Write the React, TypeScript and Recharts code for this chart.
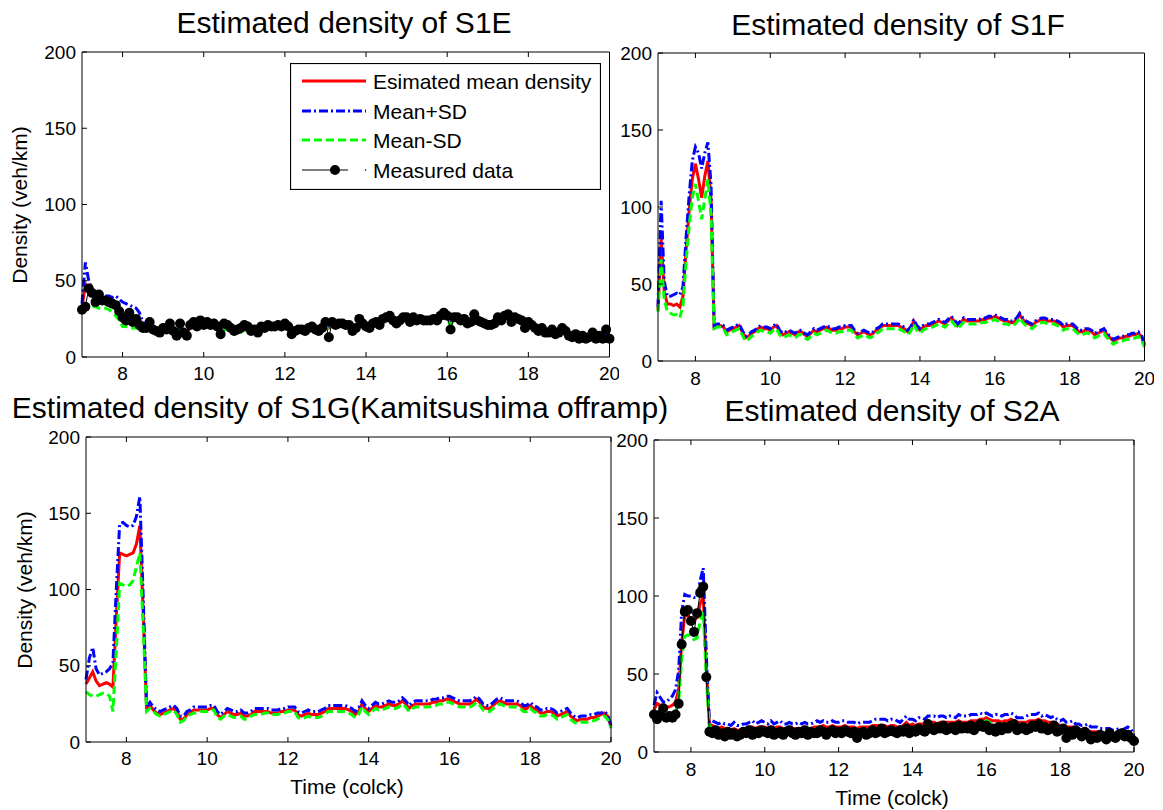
import { LineChart, Line, XAxis, YAxis } from "recharts";

const font = '"Liberation Sans", Arial, Helvetica, sans-serif';

// 5-minute samples, 7:00 to 20:00
const hours = Array.from({ length: 157 }, (_, i) => 7 + i / 12);
const xTicks = [8, 10, 12, 14, 16, 18, 20];
const yTicks = [0, 50, 100, 150, 200];

// S1E
const s1eMean = [
  32, 48, 44, 41, 40, 39, 37, 36, 35, 34, 33, 31,
  28, 27, 26, 25, 24, 22, 20, 19, 20, 19, 18, 17,
  18, 19, 20, 18, 16, 19, 17, 16, 19, 21, 21, 22,
  21, 22, 21, 21, 20, 18, 20, 20, 19, 18, 18, 18,
  20, 19, 18, 18, 17, 19, 19, 20, 20, 20, 20, 20,
  21, 20, 18, 17, 18, 18, 18, 19, 19, 18, 18, 19,
  21, 19, 21, 21, 21, 21, 21, 21, 19, 19, 23, 22,
  21, 20, 21, 22, 22, 24, 25, 26, 24, 23, 24, 25,
  25, 24, 25, 25, 25, 24, 24, 24, 24, 24, 26, 27,
  26, 22, 25, 25, 24, 24, 23, 23, 26, 24, 23, 22,
  22, 22, 22, 24, 24, 26, 27, 25, 25, 25, 24, 22,
  22, 21, 19, 18, 18, 17, 17, 17, 16, 16, 17, 16,
  15, 14, 14, 13, 14, 13, 13, 14, 13, 14, 14, 15,
  12,
];
const s1ePlus = [
  35, 62, 50, 44, 42, 42, 40, 40, 40, 39, 40, 38,
  36, 35, 34, 33, 32, 29, 23, 21, 21, 20, 19, 18,
  19, 20, 21, 19, 17, 20, 18, 17, 20, 22, 22, 23,
  22, 23, 22, 22, 21, 19, 21, 21, 20, 19, 19, 19,
  21, 20, 19, 19, 18, 20, 20, 21, 21, 21, 21, 21,
  22, 21, 19, 18, 19, 19, 19, 20, 20, 19, 19, 20,
  22, 20, 22, 22, 22, 22, 22, 22, 20, 20, 24, 23,
  22, 21, 22, 23, 23, 25, 26, 27, 25, 24, 25, 26,
  26, 25, 27, 26, 26, 25, 25, 25, 25, 25, 27, 28,
  27, 23, 26, 26, 25, 25, 24, 24, 27, 25, 24, 23,
  23, 23, 23, 25, 25, 27, 28, 26, 26, 26, 25, 23,
  23, 22, 20, 19, 19, 18, 18, 18, 17, 17, 18, 17,
  16, 15, 15, 14, 15, 14, 14, 15, 14, 15, 15, 16,
  13,
];
const s1eMinus = [
  30, 32, 32, 33, 33, 32, 32, 32, 31, 29, 27, 24,
  20, 20, 19, 19, 19, 18, 17, 17, 18, 17, 16, 16,
  17, 18, 19, 17, 15, 18, 16, 15, 18, 20, 20, 21,
  20, 21, 20, 19, 18, 16, 18, 18, 17, 16, 16, 16,
  18, 17, 16, 17, 16, 18, 18, 19, 19, 19, 19, 19,
  20, 19, 17, 16, 17, 17, 17, 18, 18, 17, 17, 18,
  20, 18, 20, 20, 20, 20, 20, 20, 18, 18, 22, 21,
  20, 19, 20, 21, 21, 23, 24, 25, 23, 22, 23, 24,
  24, 23, 24, 24, 24, 23, 23, 23, 23, 23, 25, 26,
  25, 21, 24, 24, 23, 23, 22, 22, 25, 23, 22, 21,
  21, 21, 21, 23, 23, 25, 26, 24, 24, 24, 23, 21,
  21, 20, 18, 17, 17, 16, 16, 16, 15, 15, 16, 15,
  14, 13, 13, 12, 13, 12, 12, 13, 12, 13, 13, 14,
  11,
];
const s1eMeasured = [
  31, 33, 45, 42, 36, 41, 37, 37, 36, 35, 34, 30,
  26, 24, 29, 23, 25, 21, 19, 19, 23, 18, 17, 16,
  19, 18, 22, 17, 14, 22, 16, 14, 21, 23, 20, 24,
  21, 23, 21, 22, 20, 15, 22, 21, 19, 17, 18, 19,
  21, 20, 17, 18, 16, 20, 19, 21, 20, 20, 21, 20,
  22, 20, 15, 17, 18, 18, 17, 19, 20, 18, 17, 19,
  23, 13, 23, 21, 22, 22, 21, 21, 17, 19, 25, 22,
  20, 19, 22, 23, 21, 25, 26, 27, 24, 22, 24, 26,
  26, 23, 26, 24, 25, 24, 24, 24, 25, 24, 27, 29,
  27, 18, 26, 26, 24, 25, 22, 23, 28, 24, 23, 22,
  21, 21, 22, 26, 24, 27, 28, 23, 26, 25, 24, 19,
  23, 21, 19, 17, 19, 16, 16, 18, 15, 16, 19, 17,
  14, 13, 15, 12, 14, 12, 13, 16, 12, 14, 12, 18,
  12,
];

// S1F
const s1fMean = [
  33, 80, 45, 37, 37, 36, 37, 35, 42, 72, 98, 118,
  128, 118, 106, 120, 130, 105, 22, 23, 23, 22, 19, 20,
  21, 22, 23, 19, 15, 16, 18, 19, 21, 22, 21, 21,
  20, 22, 23, 19, 17, 18, 19, 18, 17, 19, 19, 17,
  16, 18, 20, 19, 20, 21, 22, 21, 20, 20, 21, 21,
  22, 22, 22, 19, 17, 18, 19, 18, 17, 18, 20, 21,
  23, 23, 23, 23, 23, 23, 22, 21, 19, 21, 26, 22,
  20, 22, 23, 23, 24, 25, 26, 25, 24, 26, 28, 26,
  23, 25, 27, 26, 26, 26, 26, 26, 27, 27, 28, 28,
  29, 28, 27, 26, 26, 25, 25, 27, 30, 27, 25, 24,
  23, 25, 26, 27, 27, 26, 26, 26, 25, 24, 22, 23,
  23, 23, 21, 19, 19, 20, 20, 19, 17, 18, 19, 20,
  17, 15, 13, 14, 15, 15, 16, 16, 17, 17, 18, 16,
  10,
];
const s1fPlus = [
  35, 104, 52, 42, 42, 43, 44, 43, 48, 80, 108, 130,
  139, 135, 125, 135, 142, 115, 23, 24, 24, 23, 20, 21,
  22, 23, 24, 20, 16, 17, 19, 20, 22, 23, 22, 22,
  21, 23, 24, 20, 18, 19, 20, 19, 18, 20, 20, 18,
  17, 19, 21, 20, 21, 22, 23, 22, 21, 21, 22, 22,
  23, 23, 23, 20, 18, 19, 20, 19, 18, 19, 21, 22,
  24, 24, 24, 24, 24, 24, 23, 22, 20, 22, 27, 23,
  21, 23, 24, 24, 25, 26, 27, 26, 25, 27, 29, 27,
  24, 26, 28, 27, 27, 27, 27, 27, 28, 28, 29, 29,
  30, 29, 28, 27, 27, 26, 26, 28, 31, 28, 26, 25,
  24, 26, 27, 28, 28, 27, 27, 27, 26, 25, 23, 24,
  24, 24, 22, 20, 20, 21, 21, 20, 18, 19, 20, 21,
  18, 16, 14, 15, 16, 16, 17, 17, 18, 18, 19, 17,
  11,
];
const s1fMinus = [
  32, 66, 40, 32, 31, 30, 30, 28, 36, 64, 88, 106,
  115, 104, 92, 105, 118, 95, 21, 22, 22, 21, 17, 18,
  19, 20, 21, 17, 13, 14, 16, 17, 19, 20, 19, 19,
  18, 20, 21, 17, 15, 16, 17, 16, 15, 17, 17, 15,
  14, 16, 18, 17, 18, 19, 20, 19, 18, 18, 19, 19,
  20, 20, 20, 17, 15, 16, 17, 16, 15, 16, 18, 19,
  21, 21, 21, 21, 21, 21, 20, 19, 17, 19, 24, 20,
  18, 20, 21, 21, 22, 23, 24, 23, 22, 24, 26, 24,
  21, 23, 25, 24, 24, 24, 24, 24, 25, 25, 26, 26,
  27, 26, 25, 24, 24, 23, 23, 25, 28, 25, 23, 22,
  21, 23, 24, 25, 25, 24, 24, 24, 23, 22, 20, 21,
  21, 21, 19, 17, 17, 18, 18, 17, 15, 16, 17, 18,
  15, 13, 11, 12, 13, 13, 14, 14, 15, 15, 16, 14,
  9,
];

// S1G (Kamitsushima offramp)
const s1gMean = [
  38, 42, 46, 40, 37, 38, 39, 38, 36, 82, 124, 123,
  122, 123, 124, 130, 142, 85, 22, 24, 21, 19, 18, 19,
  20, 21, 22, 20, 15, 15, 18, 19, 21, 21, 21, 21,
  21, 22, 22, 18, 16, 18, 20, 19, 18, 18, 19, 17,
  17, 18, 20, 20, 20, 20, 20, 19, 19, 19, 20, 20,
  21, 21, 21, 18, 17, 18, 19, 18, 18, 18, 19, 20,
  22, 22, 22, 22, 22, 22, 21, 20, 18, 20, 25, 22,
  20, 22, 24, 23, 23, 24, 25, 24, 24, 25, 27, 25,
  22, 24, 25, 25, 25, 25, 25, 26, 26, 27, 27, 28,
  28, 27, 26, 25, 25, 25, 25, 26, 28, 26, 23, 22,
  22, 24, 26, 27, 26, 25, 25, 25, 25, 24, 22, 22,
  24, 22, 21, 19, 19, 20, 20, 19, 17, 18, 19, 20,
  17, 15, 14, 15, 15, 15, 16, 16, 17, 18, 19, 17,
  10,
];
const s1gPlus = [
  41, 55, 62, 48, 44, 45, 46, 48, 52, 100, 143, 144,
  142, 141, 142, 148, 161, 95, 23, 26, 23, 21, 20, 21,
  22, 23, 24, 22, 17, 17, 20, 21, 23, 23, 23, 23,
  23, 24, 24, 20, 18, 20, 22, 21, 20, 20, 21, 19,
  19, 20, 22, 22, 22, 22, 22, 21, 21, 21, 22, 22,
  23, 23, 23, 20, 19, 20, 21, 20, 20, 20, 21, 22,
  24, 24, 24, 24, 24, 24, 23, 22, 20, 22, 27, 24,
  22, 24, 26, 25, 25, 26, 27, 26, 26, 27, 29, 27,
  24, 26, 27, 27, 27, 27, 27, 28, 28, 29, 29, 30,
  30, 29, 28, 27, 27, 27, 27, 28, 30, 28, 25, 24,
  24, 26, 28, 29, 28, 27, 27, 27, 27, 26, 24, 24,
  26, 24, 23, 21, 21, 22, 22, 21, 19, 20, 21, 22,
  19, 17, 16, 17, 17, 17, 18, 18, 19, 19, 20, 18,
  11,
];
const s1gMinus = [
  33, 31, 30, 30, 31, 32, 32, 30, 20, 60, 104, 103,
  102, 103, 106, 115, 124, 75, 20, 22, 20, 18, 17, 18,
  19, 20, 21, 18, 13, 14, 17, 18, 19, 19, 20, 20,
  20, 21, 21, 16, 15, 17, 18, 17, 16, 16, 17, 15,
  15, 17, 18, 18, 18, 19, 19, 18, 18, 18, 19, 19,
  20, 20, 20, 16, 15, 16, 17, 16, 16, 16, 17, 18,
  20, 20, 20, 20, 20, 20, 19, 18, 16, 18, 23, 20,
  18, 20, 22, 21, 21, 22, 23, 22, 22, 23, 25, 23,
  20, 22, 23, 23, 23, 23, 23, 24, 24, 25, 25, 26,
  26, 25, 24, 23, 23, 23, 23, 24, 26, 24, 21, 20,
  20, 22, 24, 25, 24, 23, 23, 23, 23, 22, 20, 20,
  22, 20, 19, 17, 17, 18, 18, 17, 15, 16, 17, 18,
  15, 13, 12, 13, 13, 13, 14, 14, 15, 16, 17, 15,
  9,
];

// S2A
const s2aMean = [
  27, 31, 30, 29, 29, 29, 30, 32, 40, 70, 88, 87,
  86, 85, 86, 95, 100, 55, 18, 17, 16, 15, 16, 15,
  15, 14, 15, 14, 14, 15, 15, 16, 16, 15, 16, 16,
  16, 15, 16, 15, 16, 16, 15, 15, 16, 15, 15, 15,
  15, 16, 15, 15, 16, 16, 16, 17, 16, 16, 17, 16,
  16, 16, 17, 16, 16, 16, 15, 16, 16, 16, 16, 17,
  17, 17, 17, 17, 16, 17, 17, 16, 16, 17, 19, 17,
  18, 17, 18, 18, 18, 19, 19, 19, 18, 19, 19, 19,
  19, 19, 19, 20, 19, 19, 19, 20, 20, 20, 21, 21,
  22, 21, 20, 20, 20, 19, 20, 20, 21, 20, 19, 19,
  19, 19, 20, 20, 20, 21, 20, 20, 19, 19, 19, 18,
  17, 17, 16, 16, 16, 15, 15, 14, 14, 14, 13, 13,
  13, 12, 12, 12, 12, 12, 12, 12, 12, 12, 12, 12,
  9,
];
const s2aPlus = [
  30, 38, 35, 32, 32, 34, 36, 40, 52, 90, 101, 100,
  100, 99, 99, 110, 118, 62, 19, 20, 19, 18, 19, 18,
  18, 17, 19, 17, 17, 18, 18, 19, 20, 18, 19, 20,
  19, 18, 20, 18, 19, 20, 18, 18, 19, 18, 18, 19,
  18, 19, 18, 18, 19, 20, 19, 20, 19, 19, 20, 19,
  19, 20, 20, 19, 19, 19, 18, 19, 19, 19, 19, 20,
  21, 21, 21, 21, 20, 21, 21, 20, 19, 21, 23, 21,
  21, 20, 22, 22, 21, 23, 23, 23, 22, 23, 23, 22,
  23, 23, 22, 24, 23, 23, 23, 24, 24, 24, 25, 24,
  25, 24, 23, 24, 24, 23, 24, 24, 25, 24, 22, 22,
  22, 23, 24, 24, 24, 25, 23, 24, 23, 22, 23, 21,
  20, 21, 19, 19, 20, 18, 18, 17, 17, 18, 16, 16,
  16, 15, 15, 15, 15, 14, 14, 15, 14, 15, 16, 15,
  11,
];
const s2aMinus = [
  25, 25, 25, 25, 24, 24, 25, 26, 32, 60, 74, 75,
  74, 72, 73, 84, 90, 48, 15, 14, 13, 13, 14, 13,
  13, 12, 13, 12, 12, 13, 13, 14, 14, 13, 14, 14,
  14, 13, 14, 13, 14, 14, 13, 13, 14, 13, 13, 13,
  13, 14, 13, 13, 14, 14, 14, 15, 14, 14, 15, 14,
  14, 14, 15, 14, 14, 14, 13, 14, 14, 14, 14, 15,
  15, 15, 15, 15, 14, 15, 15, 14, 14, 15, 17, 15,
  16, 15, 16, 16, 16, 17, 17, 17, 16, 17, 17, 17,
  17, 17, 17, 18, 17, 17, 17, 18, 18, 18, 19, 19,
  20, 19, 18, 18, 18, 17, 18, 18, 19, 18, 17, 17,
  17, 17, 18, 18, 18, 19, 18, 18, 17, 17, 17, 16,
  15, 15, 14, 14, 14, 13, 13, 12, 12, 12, 11, 11,
  11, 10, 10, 10, 10, 10, 10, 10, 10, 10, 10, 10,
  8,
];
const s2aMeasured = [
  24, 21, 24, 28, 22, 23, 22, 24, 31, 69, 90, 91,
  84, 77, 89, 102, 106, 48, 13, 12, 14, 11, 12, 10,
  13, 11, 12, 10, 11, 13, 12, 14, 11, 13, 12, 14,
  13, 12, 14, 11, 12, 13, 11, 13, 14, 12, 11, 13,
  12, 14, 11, 13, 12, 12, 14, 13, 11, 13, 14, 12,
  13, 12, 14, 13, 12, 13, 9, 12, 13, 11, 12, 14,
  12, 13, 15, 12, 13, 14, 13, 12, 14, 13, 15, 12,
  14, 13, 15, 14, 13, 18, 15, 14, 16, 15, 17, 14,
  15, 16, 14, 17, 15, 16, 15, 17, 14, 16, 18, 16,
  17, 14, 15, 13, 16, 14, 16, 15, 17, 18, 14, 15,
  16, 14, 15, 17, 16, 18, 15, 16, 14, 15, 17, 13,
  14, 15, 9, 13, 11, 14, 12, 10, 13, 11, 8, 10,
  9, 11, 10, 8, 12, 10, 9, 11, 12, 10, 11, 9,
  7,
];

type Row = { t: number; mean: number; plus: number; minus: number; measured?: number };

function buildRows(mean: number[], plus: number[], minus: number[], measured?: number[]): Row[] {
  return hours.map((t, i) => ({
    t,
    mean: mean[i],
    plus: plus[i],
    minus: minus[i],
    measured: measured ? measured[i] : undefined,
  }));
}

const tickText = { fill: "#000", fontSize: 19, fontFamily: font };
const Y_AXIS_W = 60;
const PAD = 10;
const X_AXIS_H = 40;

interface PanelProps {
  rows: Row[];
  left: number;
  top: number;
  width: number;
  height: number;
  xLabelGap: number;
  measured?: boolean;
}

function DensityPanel({ rows, left, top, width, height, xLabelGap, measured }: PanelProps) {
  return (
    <div style={{ position: "absolute", left: left - Y_AXIS_W, top: top - PAD }}>
      <LineChart
        width={width + Y_AXIS_W + PAD}
        height={height + PAD + X_AXIS_H}
        data={rows}
        margin={{ top: PAD - 1, right: PAD - 1, bottom: 0, left: 0 }}
      >
        <XAxis
          dataKey="t"
          type="number"
          domain={[7, 20]}
          ticks={xTicks}
          interval={0}
          height={X_AXIS_H}
          tickSize={-5}
          tickMargin={xLabelGap + 5}
          tick={tickText}
          stroke="#000"
        />
        <XAxis
          xAxisId="top"
          orientation="top"
          dataKey="t"
          type="number"
          domain={[7, 20]}
          ticks={xTicks}
          interval={0}
          height={1}
          tickSize={-5}
          tickFormatter={() => ""}
          stroke="#000"
        />
        <YAxis
          domain={[0, 200]}
          ticks={yTicks}
          interval={0}
          width={Y_AXIS_W}
          tickSize={-5}
          tickMargin={11}
          tick={tickText}
          stroke="#000"
        />
        <YAxis
          yAxisId="right"
          orientation="right"
          domain={[0, 200]}
          ticks={yTicks}
          interval={0}
          width={1}
          tickSize={-5}
          tickFormatter={() => ""}
          stroke="#000"
        />
        <Line dataKey="mean" stroke="#ff0000" strokeWidth={3} dot={false} isAnimationActive={false} />
        <Line
          dataKey="plus"
          stroke="#0000ff"
          strokeWidth={3}
          strokeDasharray="9 3 2 3"
          dot={false}
          isAnimationActive={false}
        />
        <Line
          dataKey="minus"
          stroke="#00ff00"
          strokeWidth={3}
          strokeDasharray="8 4"
          dot={false}
          isAnimationActive={false}
        />
        {measured && (
          <Line
            dataKey="measured"
            stroke="#000"
            strokeWidth={1}
            dot={{ r: 5, fill: "#000", stroke: "#000", strokeWidth: 0 }}
            isAnimationActive={false}
          />
        )}
      </LineChart>
    </div>
  );
}

function Title({ text, cx, cy }: { text: string; cx: number; cy: number }) {
  return (
    <div
      style={{
        position: "absolute",
        left: cx - 400,
        top: cy - 15,
        width: 800,
        textAlign: "center",
        fontSize: 30,
        lineHeight: "30px",
        fontFamily: font,
        whiteSpace: "nowrap",
      }}
    >
      {text}
    </div>
  );
}

function AxisLabel({ text, cx, cy, vertical }: { text: string; cx: number; cy: number; vertical?: boolean }) {
  return (
    <div
      style={{
        position: "absolute",
        left: cx,
        top: cy,
        transform: `translate(-50%, -50%)${vertical ? " rotate(-90deg)" : ""}`,
        fontSize: 21,
        lineHeight: "21px",
        fontFamily: font,
        whiteSpace: "nowrap",
      }}
    >
      {text}
    </div>
  );
}

const legendRows = [
  { label: "Esimated mean density", color: "#ff0000", dash: undefined },
  { label: "Mean+SD", color: "#0000ff", dash: "9 3 2 3" },
  { label: "Mean-SD", color: "#00ff00", dash: "8 4" },
];

function DensityLegend() {
  const rowY = [18, 48, 77, 107];
  return (
    <svg
      width={311}
      height={127}
      style={{ position: "absolute", left: 290, top: 63, background: "#fff" }}
    >
      <rect x={0.5} y={0.5} width={310} height={126} fill="#fff" stroke="#000" strokeWidth={1.2} />
      {legendRows.map((r, i) => (
        <g key={r.label}>
          <line x1={12} x2={76} y1={rowY[i]} y2={rowY[i]} stroke={r.color} strokeWidth={3} strokeDasharray={r.dash} />
          <text x={83} y={rowY[i] + 7.5} fontSize={21} fontFamily={font} fill="#000">
            {r.label}
          </text>
        </g>
      ))}
      <line x1={12} x2={58} y1={rowY[3]} y2={rowY[3]} stroke="#000" strokeWidth={1} />
      <circle cx={45} cy={rowY[3]} r={5} fill="#000" />
      <circle cx={75.5} cy={rowY[3]} r={0.8} fill="#000" />
      <text x={83} y={rowY[3] + 7.5} fontSize={21} fontFamily={font} fill="#000">
        Measured data
      </text>
    </svg>
  );
}

export default function App() {
  return (
    <div
      style={{
        position: "absolute",
        left: 0,
        top: 0,
        width: 1163,
        height: 810,
        background: "#fff",
        overflow: "hidden",
      }}
    >
      <DensityPanel
        rows={buildRows(s1eMean, s1ePlus, s1eMinus, s1eMeasured)}
        left={81.5}
        top={52}
        width={527.5}
        height={305}
        xLabelGap={10}
        measured
      />
      <DensityPanel
        rows={buildRows(s1fMean, s1fPlus, s1fMinus)}
        left={657.5}
        top={53}
        width={486.5}
        height={308}
        xLabelGap={11}
      />
      <DensityPanel
        rows={buildRows(s1gMean, s1gPlus, s1gMinus)}
        left={86}
        top={437}
        width={525}
        height={305}
        xLabelGap={10}
      />
      <DensityPanel
        rows={buildRows(s2aMean, s2aPlus, s2aMinus, s2aMeasured)}
        left={654}
        top={440}
        width={480}
        height={312}
        xLabelGap={11}
        measured
      />

      <DensityLegend />

      <Title text="Estimated density of S1E" cx={344} cy={22.5} />
      <Title text="Estimated density of S1F" cx={898} cy={25} />
      <Title text="Estimated density of S1G(Kamitsushima offramp)" cx={340} cy={408} />
      <Title text="Estimated density of S2A" cx={892} cy={411} />

      <AxisLabel text="Density (veh/km)" cx={19} cy={205} vertical />
      <AxisLabel text="Density (veh/km)" cx={24} cy={590} vertical />
      <AxisLabel text="Time (colck)" cx={347} cy={786} />
      <AxisLabel text="Time (colck)" cx={892} cy={797} />
    </div>
  );
}
